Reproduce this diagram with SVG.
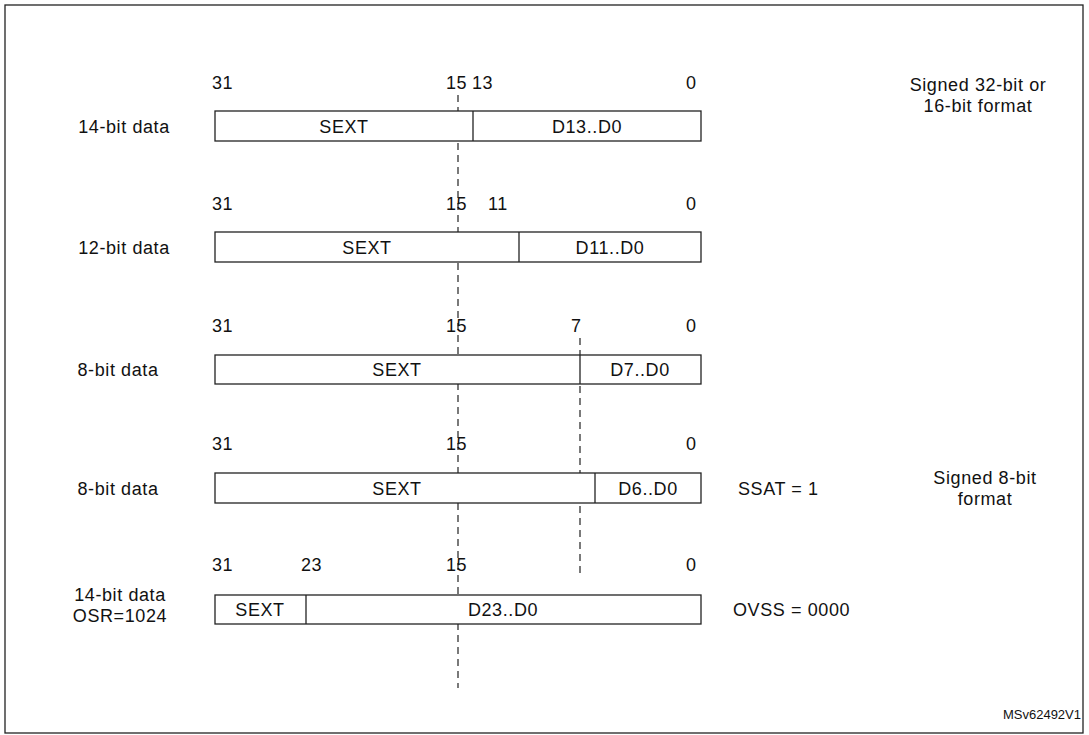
<svg xmlns="http://www.w3.org/2000/svg" width="1089" height="735" viewBox="0 0 1089 735">
<style>
text{font-family:"Liberation Sans",Arial,sans-serif;font-size:18px;fill:#111;letter-spacing:0.6px}
.m{text-anchor:middle}
.b{fill:#fff;stroke:#222;stroke-width:1.3}
.d{stroke:#222;stroke-width:1.2;stroke-dasharray:7,5;fill:none}
.s{stroke:#222;stroke-width:1.3}
</style>
<rect x="5" y="5" width="1078" height="728" fill="#fff" stroke="#222" stroke-width="1.3"/>
<g id="connectors">
<line class="d" x1="458" y1="95" x2="458" y2="688"/>
<line class="d" x1="580" y1="338" x2="580" y2="577"/>
</g>
<g id="row1">
<rect class="b" x="215" y="111" width="486" height="30"/><line class="s" x1="473" y1="111" x2="473" y2="141"/>
<text class="m" x="344" y="133">SEXT</text><text class="m" x="587" y="133">D13..D0</text>
<text class="m" x="124" y="133">14-bit data</text>
<text x="212" y="89">31</text><text x="446" y="89">15</text><text x="472" y="89">13</text><text x="686" y="89">0</text>
</g>
<g id="row2">
<rect class="b" x="215" y="232" width="486" height="30"/><line class="s" x1="519" y1="232" x2="519" y2="262"/>
<text class="m" x="367" y="254">SEXT</text><text class="m" x="610" y="254">D11..D0</text>
<text class="m" x="124" y="254">12-bit data</text>
<text x="212" y="210">31</text><text x="446" y="210">15</text><text x="488" y="210">11</text><text x="686" y="210">0</text>
</g>
<g id="row3">
<rect class="b" x="215" y="355" width="486" height="29"/><line class="s" x1="580" y1="355" x2="580" y2="384"/>
<text class="m" x="397" y="376">SEXT</text><text class="m" x="640" y="376">D7..D0</text>
<text class="m" x="118" y="376">8-bit data</text>
<text x="212" y="332">31</text><text x="446" y="332">15</text><text x="571" y="332">7</text><text x="686" y="332">0</text>
</g>
<g id="row4">
<rect class="b" x="215" y="473" width="486" height="30"/><line class="s" x1="595" y1="473" x2="595" y2="503"/>
<text class="m" x="397" y="495">SEXT</text><text class="m" x="648" y="495">D6..D0</text>
<text class="m" x="118" y="495">8-bit data</text>
<text x="212" y="450">31</text><text x="446" y="450">15</text><text x="686" y="450">0</text>
<text x="738" y="495">SSAT = 1</text>
<text class="m" x="985" y="484">Signed 8-bit</text><text class="m" x="985" y="505">format</text>
</g>
<g id="row5">
<rect class="b" x="215" y="595" width="486" height="29"/><line class="s" x1="306" y1="595" x2="306" y2="624"/>
<text class="m" x="260" y="616">SEXT</text><text class="m" x="503" y="616">D23..D0</text>
<text class="m" x="120" y="601">14-bit data</text><text class="m" x="120" y="622">OSR=1024</text>
<text x="212" y="571">31</text><text x="301" y="571">23</text><text x="446" y="571">15</text><text x="686" y="571">0</text>
<text x="733" y="616">OVSS = 0000</text>
</g>
<text class="m" x="978" y="91">Signed 32-bit or</text><text class="m" x="978" y="112">16-bit format</text>
<text x="1081" y="719" style="font-size:13px;letter-spacing:0;text-anchor:end">MSv62492V1</text>
</svg>
